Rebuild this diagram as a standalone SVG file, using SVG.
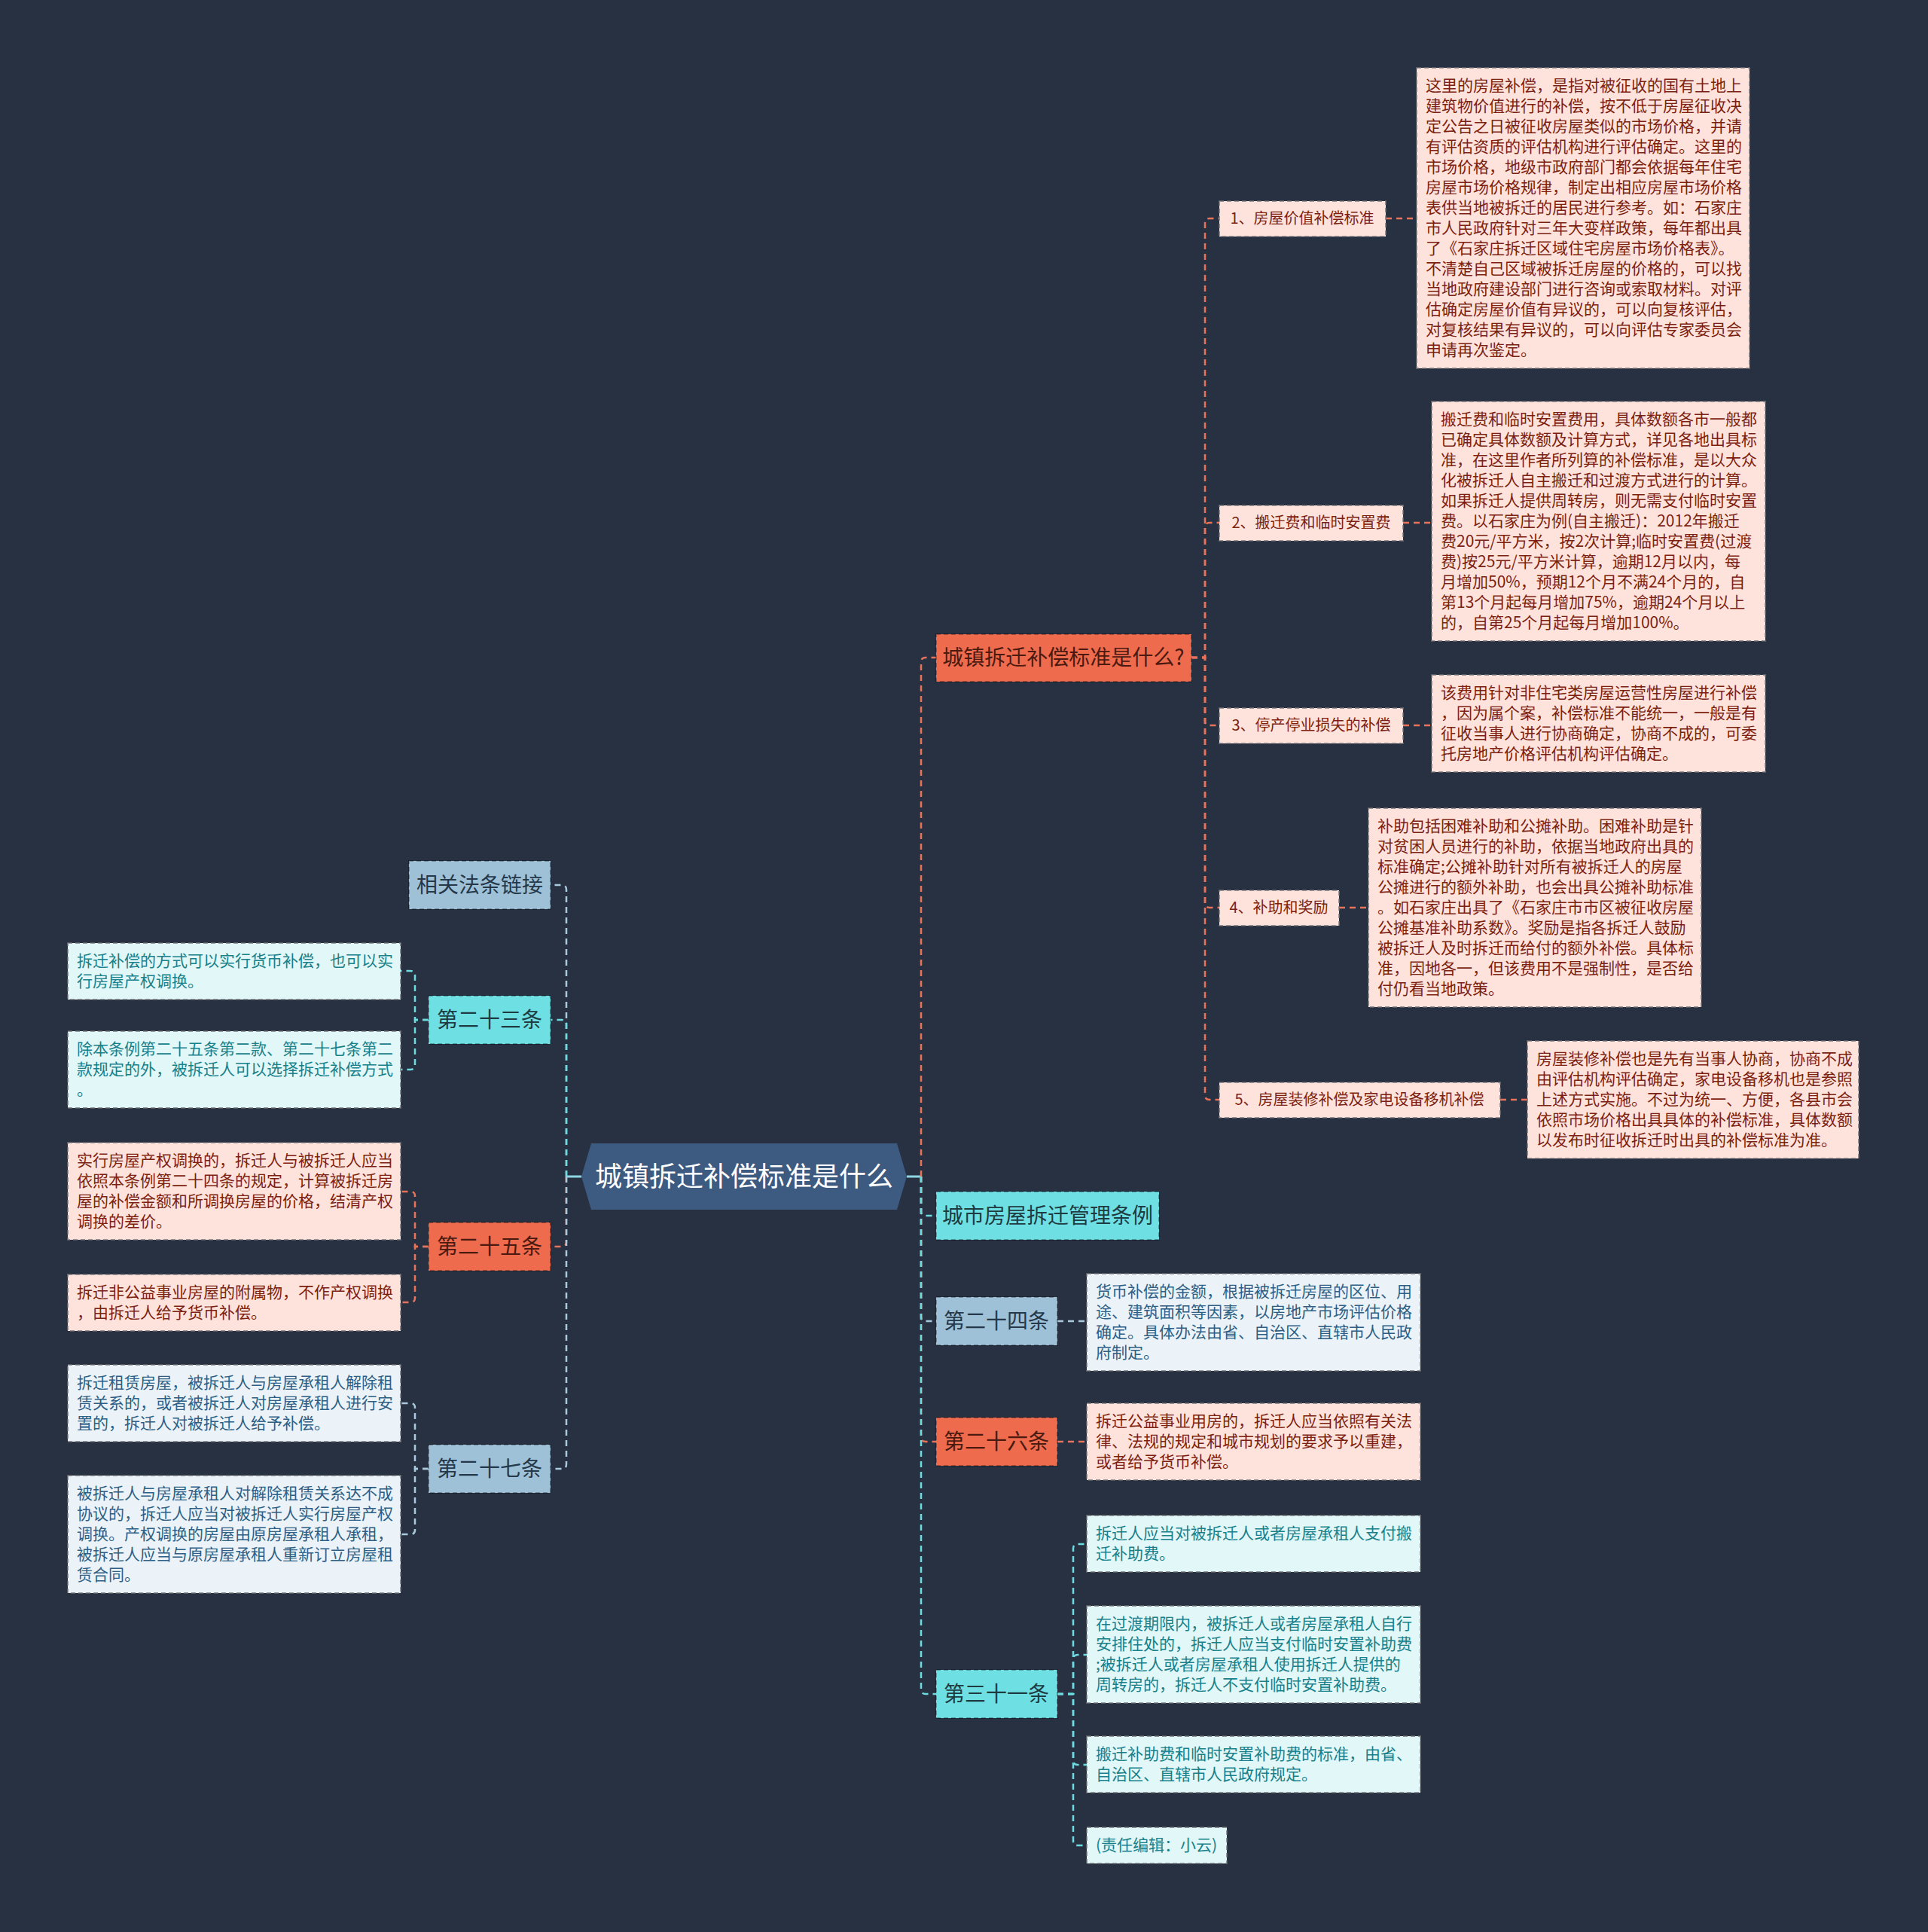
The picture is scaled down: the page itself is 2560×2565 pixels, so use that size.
<svg xmlns="http://www.w3.org/2000/svg" width="2560" height="2565" viewBox="0 0 2560 2565">
<style>
text{font-family:"Noto Sans CJK SC","Noto Sans",sans-serif}
.lf{stroke:#6f6f73;stroke-opacity:.7;stroke-width:2;stroke-dasharray:6 4}
.lo{fill:#fde3dc}.lc{fill:#e1f7f8}.lb{fill:#ebf3f8}
.to{fill:#7c1f10;font-size:21px}.tc{fill:#17808a;font-size:21px}.tb{fill:#2d5f86;font-size:21px}
.nd{stroke:#000;stroke-opacity:.3;stroke-width:2;stroke-dasharray:6 4}
.no{fill:#ef6b4e}.nc{fill:#6ee0e4}.nb{fill:#9fc1d7}
.nt{font-size:28px;text-anchor:middle}
.nto{fill:#4a1a10}.ntc{fill:#1f3b42}.ntb{fill:#24384a}
.ct{font-size:20px;text-anchor:middle;fill:#7c1f10}
.c{fill:none;stroke-width:2.5;stroke-dasharray:8 6}
.co{stroke:#e8735a}.cc{stroke:#6cdce0}.cb{stroke:#a9c9dd}
</style>
<rect width="2560" height="2565" fill="#283142"/>
<g id="connectors">
<path d="M772 1562H752M1204 1562H1223" stroke="#8fd6e3" stroke-width="3" fill="none"/>
<path class="c cb" d="M752 1562V1181Q752 1175 746 1175H731"/>
<path class="c cc" d="M752 1562V1360Q752 1354 746 1354H731"/>
<path class="c co" d="M752 1562V1649Q752 1655 746 1655H731"/>
<path class="c cb" d="M752 1562V1944Q752 1950 746 1950H731"/>
<path class="c co" d="M1223 1562V879Q1223 873 1229 873H1243"/>
<path class="c cc" d="M1223 1562V1608Q1223 1614 1229 1614H1243"/>
<path class="c cb" d="M1223 1562V1748Q1223 1754 1229 1754H1243"/>
<path class="c co" d="M1223 1562V1908Q1223 1914 1229 1914H1243"/>
<path class="c cc" d="M1223 1562V2243Q1223 2249 1229 2249H1243"/>
<path class="c co" d="M1582 873H1600V296Q1600 290 1606 290H1619"/>
<path class="c co" d="M1582 873H1600V700Q1600 694 1606 694H1619"/>
<path class="c co" d="M1582 873H1600V957Q1600 963 1606 963H1619"/>
<path class="c co" d="M1582 873H1600V1199Q1600 1205 1606 1205H1619"/>
<path class="c co" d="M1582 873H1600V1454Q1600 1460 1606 1460H1619"/>
<path class="c co" d="M1840 290H1881M1863 694H1901M1863 963H1901M1778 1205H1817M1992 1460H2028"/>
<path class="c cc" d="M569 1354H551V1295Q551 1289 545 1289H532"/>
<path class="c cc" d="M569 1354H551V1414Q551 1420 545 1420H532"/>
<path class="c co" d="M569 1655H551V1588Q551 1582 545 1582H532"/>
<path class="c co" d="M569 1655H551V1723Q551 1729 545 1729H532"/>
<path class="c cb" d="M569 1950H551V1869Q551 1863 545 1863H532"/>
<path class="c cb" d="M569 1950H551V2031Q551 2037 545 2037H532"/>
<path class="c cb" d="M1404 1754H1443"/>
<path class="c co" d="M1404 1914H1443"/>
<path class="c cc" d="M1404 2249H1425V2056Q1425 2050 1431 2050H1443"/>
<path class="c cc" d="M1404 2249H1425V2203Q1425 2197 1431 2197H1443"/>
<path class="c cc" d="M1404 2249H1425V2337Q1425 2343 1431 2343H1443"/>
<path class="c cc" d="M1404 2249H1425V2444Q1425 2450 1431 2450H1443"/>
</g>
<g id="root">
<polygon points="772,1562 785,1518 1191,1518 1204,1562 1191,1606 785,1606" fill="#3d5a80"/>
<text x="988" y="1575" font-size="36" fill="#ffffff" text-anchor="middle">城镇拆迁补偿标准是什么</text>
</g>
<g id="n-q">
<rect class="nd no" x="1243" y="842" width="339" height="63"/>
<text class="nt nto" x="1412" y="883">城镇拆迁补偿标准是什么?</text>
</g>
<g id="n-tiaoli">
<rect class="nd nc" x="1243" y="1582" width="296" height="64"/>
<text class="nt ntc" x="1391" y="1624">城市房屋拆迁管理条例</text>
</g>
<g id="n-24">
<rect class="nd nb" x="1243" y="1722" width="161" height="64"/>
<text class="nt ntb" x="1323" y="1764">第二十四条</text>
</g>
<g id="n-26">
<rect class="nd no" x="1243" y="1882" width="161" height="64"/>
<text class="nt nto" x="1323" y="1924">第二十六条</text>
</g>
<g id="n-31">
<rect class="nd nc" x="1243" y="2217" width="161" height="64"/>
<text class="nt ntc" x="1323" y="2259">第三十一条</text>
</g>
<g id="n-links">
<rect class="nd nb" x="543" y="1143" width="188" height="64"/>
<text class="nt ntb" x="637" y="1185">相关法条链接</text>
</g>
<g id="n-23">
<rect class="nd nc" x="569" y="1322" width="162" height="64"/>
<text class="nt ntc" x="650" y="1364">第二十三条</text>
</g>
<g id="n-25">
<rect class="nd no" x="569" y="1623" width="162" height="64"/>
<text class="nt nto" x="650" y="1665">第二十五条</text>
</g>
<g id="n-27">
<rect class="nd nb" x="569" y="1918" width="162" height="64"/>
<text class="nt ntb" x="650" y="1960">第二十七条</text>
</g>
<g id="c1">
<rect class="lf lo" x="1619" y="267" width="221" height="47"/>
<text class="ct" x="1729" y="297">1、房屋价值补偿标准</text>
</g>
<g id="c2">
<rect class="lf lo" x="1619" y="671" width="244" height="47"/>
<text class="ct" x="1741" y="701">2、搬迁费和临时安置费</text>
</g>
<g id="c3">
<rect class="lf lo" x="1619" y="940" width="244" height="47"/>
<text class="ct" x="1741" y="970">3、停产停业损失的补偿</text>
</g>
<g id="c4">
<rect class="lf lo" x="1619" y="1182" width="159" height="47"/>
<text class="ct" x="1698" y="1212">4、补助和奖励</text>
</g>
<g id="c5">
<rect class="lf lo" x="1619" y="1437" width="373" height="47"/>
<text class="ct" x="1805" y="1467">5、房屋装修补偿及家电设备移机补偿</text>
</g>
<g id="d1">
<rect class="lf lo" x="1881" y="90" width="442" height="399"/>
<text class="to">
<tspan x="1893" y="121">这里的房屋补偿，是指对被征收的国有土地上</tspan>
<tspan x="1893" y="148">建筑物价值进行的补偿，按不低于房屋征收决</tspan>
<tspan x="1893" y="175">定公告之日被征收房屋类似的市场价格，并请</tspan>
<tspan x="1893" y="202">有评估资质的评估机构进行评估确定。这里的</tspan>
<tspan x="1893" y="229">市场价格，地级市政府部门都会依据每年住宅</tspan>
<tspan x="1893" y="256">房屋市场价格规律，制定出相应房屋市场价格</tspan>
<tspan x="1893" y="283">表供当地被拆迁的居民进行参考。如：石家庄</tspan>
<tspan x="1893" y="310">市人民政府针对三年大变样政策，每年都出具</tspan>
<tspan x="1893" y="337">了《石家庄拆迁区域住宅房屋市场价格表》。</tspan>
<tspan x="1893" y="364">不清楚自己区域被拆迁房屋的价格的，可以找</tspan>
<tspan x="1893" y="391">当地政府建设部门进行咨询或索取材料。对评</tspan>
<tspan x="1893" y="418">估确定房屋价值有异议的，可以向复核评估，</tspan>
<tspan x="1893" y="445">对复核结果有异议的，可以向评估专家委员会</tspan>
<tspan x="1893" y="472">申请再次鉴定。</tspan>
</text>
</g>
<g id="d2">
<rect class="lf lo" x="1901" y="533" width="443" height="318"/>
<text class="to">
<tspan x="1913" y="564">搬迁费和临时安置费用，具体数额各市一般都</tspan>
<tspan x="1913" y="591">已确定具体数额及计算方式，详见各地出具标</tspan>
<tspan x="1913" y="618">准，在这里作者所列算的补偿标准，是以大众</tspan>
<tspan x="1913" y="645">化被拆迁人自主搬迁和过渡方式进行的计算。</tspan>
<tspan x="1913" y="672">如果拆迁人提供周转房，则无需支付临时安置</tspan>
<tspan x="1913" y="699">费。以石家庄为例(自主搬迁)：2012年搬迁</tspan>
<tspan x="1913" y="726">费20元/平方米，按2次计算;临时安置费(过渡</tspan>
<tspan x="1913" y="753">费)按25元/平方米计算，逾期12月以内，每</tspan>
<tspan x="1913" y="780">月增加50%，预期12个月不满24个月的，自</tspan>
<tspan x="1913" y="807">第13个月起每月增加75%，逾期24个月以上</tspan>
<tspan x="1913" y="834">的，自第25个月起每月增加100%。</tspan>
</text>
</g>
<g id="d3">
<rect class="lf lo" x="1901" y="896" width="443" height="129"/>
<text class="to">
<tspan x="1913" y="927">该费用针对非住宅类房屋运营性房屋进行补偿</tspan>
<tspan x="1913" y="954">，因为属个案，补偿标准不能统一，一般是有</tspan>
<tspan x="1913" y="981">征收当事人进行协商确定，协商不成的，可委</tspan>
<tspan x="1913" y="1008">托房地产价格评估机构评估确定。</tspan>
</text>
</g>
<g id="d4">
<rect class="lf lo" x="1817" y="1073" width="442" height="264"/>
<text class="to">
<tspan x="1829" y="1104">补助包括困难补助和公摊补助。困难补助是针</tspan>
<tspan x="1829" y="1131">对贫困人员进行的补助，依据当地政府出具的</tspan>
<tspan x="1829" y="1158">标准确定;公摊补助针对所有被拆迁人的房屋</tspan>
<tspan x="1829" y="1185">公摊进行的额外补助，也会出具公摊补助标准</tspan>
<tspan x="1829" y="1212">。如石家庄出具了《石家庄市市区被征收房屋</tspan>
<tspan x="1829" y="1239">公摊基准补助系数》。奖励是指各拆迁人鼓励</tspan>
<tspan x="1829" y="1266">被拆迁人及时拆迁而给付的额外补偿。具体标</tspan>
<tspan x="1829" y="1293">准，因地各一，但该费用不是强制性，是否给</tspan>
<tspan x="1829" y="1320">付仍看当地政策。</tspan>
</text>
</g>
<g id="d5">
<rect class="lf lo" x="2028" y="1382" width="440" height="156"/>
<text class="to">
<tspan x="2040" y="1413">房屋装修补偿也是先有当事人协商，协商不成</tspan>
<tspan x="2040" y="1440">由评估机构评估确定，家电设备移机也是参照</tspan>
<tspan x="2040" y="1467">上述方式实施。不过为统一、方便，各县市会</tspan>
<tspan x="2040" y="1494">依照市场价格出具具体的补偿标准，具体数额</tspan>
<tspan x="2040" y="1521">以发布时征收拆迁时出具的补偿标准为准。</tspan>
</text>
</g>
<g id="l1">
<rect class="lf lc" x="90" y="1252" width="442" height="75"/>
<text class="tc">
<tspan x="102" y="1283">拆迁补偿的方式可以实行货币补偿，也可以实</tspan>
<tspan x="102" y="1310">行房屋产权调换。</tspan>
</text>
</g>
<g id="l2">
<rect class="lf lc" x="90" y="1369" width="442" height="102"/>
<text class="tc">
<tspan x="102" y="1400">除本条例第二十五条第二款、第二十七条第二</tspan>
<tspan x="102" y="1427">款规定的外，被拆迁人可以选择拆迁补偿方式</tspan>
<tspan x="102" y="1454">。</tspan>
</text>
</g>
<g id="l3">
<rect class="lf lo" x="90" y="1517" width="442" height="129"/>
<text class="to">
<tspan x="102" y="1548">实行房屋产权调换的，拆迁人与被拆迁人应当</tspan>
<tspan x="102" y="1575">依照本条例第二十四条的规定，计算被拆迁房</tspan>
<tspan x="102" y="1602">屋的补偿金额和所调换房屋的价格，结清产权</tspan>
<tspan x="102" y="1629">调换的差价。</tspan>
</text>
</g>
<g id="l4">
<rect class="lf lo" x="90" y="1692" width="442" height="75"/>
<text class="to">
<tspan x="102" y="1723">拆迁非公益事业房屋的附属物，不作产权调换</tspan>
<tspan x="102" y="1750">，由拆迁人给予货币补偿。</tspan>
</text>
</g>
<g id="l5">
<rect class="lf lb" x="90" y="1812" width="442" height="102"/>
<text class="tb">
<tspan x="102" y="1843">拆迁租赁房屋，被拆迁人与房屋承租人解除租</tspan>
<tspan x="102" y="1870">赁关系的，或者被拆迁人对房屋承租人进行安</tspan>
<tspan x="102" y="1897">置的，拆迁人对被拆迁人给予补偿。</tspan>
</text>
</g>
<g id="l6">
<rect class="lf lb" x="90" y="1959" width="442" height="156"/>
<text class="tb">
<tspan x="102" y="1990">被拆迁人与房屋承租人对解除租赁关系达不成</tspan>
<tspan x="102" y="2017">协议的，拆迁人应当对被拆迁人实行房屋产权</tspan>
<tspan x="102" y="2044">调换。产权调换的房屋由原房屋承租人承租，</tspan>
<tspan x="102" y="2071">被拆迁人应当与原房屋承租人重新订立房屋租</tspan>
<tspan x="102" y="2098">赁合同。</tspan>
</text>
</g>
<g id="r1">
<rect class="lf lb" x="1443" y="1691" width="443" height="129"/>
<text class="tb">
<tspan x="1455" y="1722">货币补偿的金额，根据被拆迁房屋的区位、用</tspan>
<tspan x="1455" y="1749">途、建筑面积等因素，以房地产市场评估价格</tspan>
<tspan x="1455" y="1776">确定。具体办法由省、自治区、直辖市人民政</tspan>
<tspan x="1455" y="1803">府制定。</tspan>
</text>
</g>
<g id="r2">
<rect class="lf lo" x="1443" y="1863" width="443" height="102"/>
<text class="to">
<tspan x="1455" y="1894">拆迁公益事业用房的，拆迁人应当依照有关法</tspan>
<tspan x="1455" y="1921">律、法规的规定和城市规划的要求予以重建，</tspan>
<tspan x="1455" y="1948">或者给予货币补偿。</tspan>
</text>
</g>
<g id="r3">
<rect class="lf lc" x="1443" y="2012" width="443" height="75"/>
<text class="tc">
<tspan x="1455" y="2043">拆迁人应当对被拆迁人或者房屋承租人支付搬</tspan>
<tspan x="1455" y="2070">迁补助费。</tspan>
</text>
</g>
<g id="r4">
<rect class="lf lc" x="1443" y="2132" width="443" height="129"/>
<text class="tc">
<tspan x="1455" y="2163">在过渡期限内，被拆迁人或者房屋承租人自行</tspan>
<tspan x="1455" y="2190">安排住处的，拆迁人应当支付临时安置补助费</tspan>
<tspan x="1455" y="2217">;被拆迁人或者房屋承租人使用拆迁人提供的</tspan>
<tspan x="1455" y="2244">周转房的，拆迁人不支付临时安置补助费。</tspan>
</text>
</g>
<g id="r5">
<rect class="lf lc" x="1443" y="2305" width="443" height="75"/>
<text class="tc">
<tspan x="1455" y="2336">搬迁补助费和临时安置补助费的标准，由省、</tspan>
<tspan x="1455" y="2363">自治区、直辖市人民政府规定。</tspan>
</text>
</g>
<g id="r6">
<rect class="lf lc" x="1443" y="2426" width="186" height="48"/>
<text class="tc" x="1455" y="2457">(责任编辑：小云)</text>
</g>
</svg>
